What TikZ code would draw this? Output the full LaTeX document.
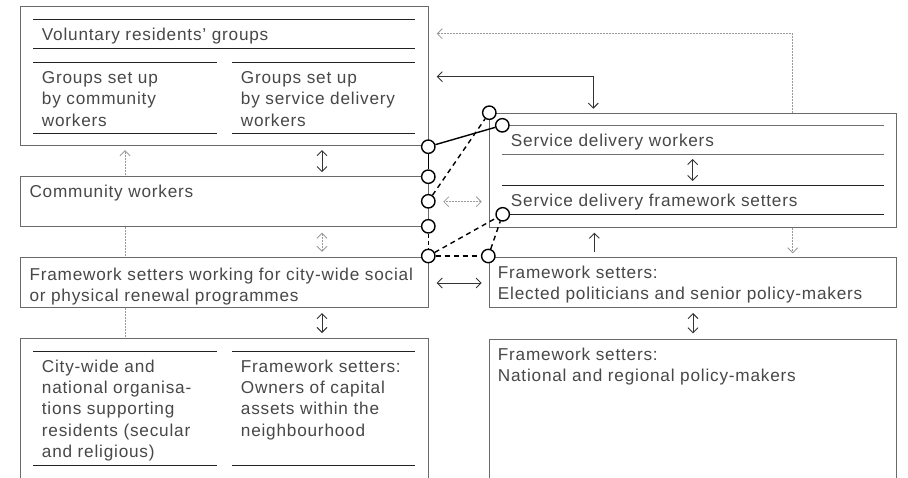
\documentclass[tikz,border=0pt]{standalone}
\usepackage{fontspec}
\setmainfont{Liberation Sans}[LetterSpace=4.6]
\usetikzlibrary{arrows.meta,backgrounds}
\definecolor{boxline}{HTML}{6A6A6A}
\definecolor{txt}{HTML}{484848}
\definecolor{dotline}{HTML}{9A9A9A}
\definecolor{rulegray}{HTML}{707070}
\definecolor{ruledark}{HTML}{222222}

\tikzset{
  box/.style={draw=boxline, line width=1pt, fill=white, anchor=north west,
    inner sep=0pt, outer sep=0pt, rectangle},
  lbl/.style={anchor=base west, inner sep=0pt, text=txt,
    font=\fontsize{17.2}{21.4}\selectfont},
  rulel/.style={draw=rulegray, line width=1pt},
  ruled/.style={draw=ruledark, line width=1pt},
  joint/.style={circle, draw=black, line width=1.4pt, fill=white,
    minimum size=13.4pt, inner sep=0pt},
  link/.style={draw=black, line width=1.4pt},
  dlink/.style={draw=black, line width=1.4pt, dash pattern=on 5pt off 4pt},
  tip/.tip={Straight Barb[length=5pt,width=10pt]},
  sarr/.style={draw=black!80, line width=0.9pt},
  dotl/.style={draw=dotline, line width=0.8pt, dash pattern=on 0.7pt off 0.8pt},
}

\newcommand{\blk}[2]{\parbox[t]{#1}{\raggedright #2}}

\begin{document}
\begin{tikzpicture}[x=1pt,y=-1pt]
\useasboundingbox (0,0) rectangle (908,477);

% ---- boxes on the left ----
\node[box, minimum width=407.3pt, minimum height=139pt] (vol) at (20.7,6.7) {};
\node[box, minimum width=407.3pt, minimum height=50pt]  (cw)  at (20.7,176.7) {};
\node[box, minimum width=407.3pt, minimum height=50pt]  (fsc) at (20.7,257.3) {};
\node[box, minimum width=407.3pt, minimum height=142pt] (org) at (20.7,338.3) {};

% ---- boxes on the right ----
\node[box, minimum width=407.4pt, minimum height=114pt] (sd)  at (489.3,113.3) {};
\node[box, minimum width=407.4pt, minimum height=50pt]  (el)  at (489.3,257.3) {};
\node[box, minimum width=407.4pt, minimum height=141pt] (nat) at (489.3,339) {};

% ---- inner rules ----
\draw[ruled] (33,19.3) -- (415,19.3);
\draw[ruled] (33,48.3) -- (415,48.3);
\draw[ruled] (33,62) -- (216.7,62);
\draw[ruled] (232,62) -- (415,62);
\draw[ruled] (33,133.3) -- (216.7,133.3);
\draw[ruled] (232,133.3) -- (415,133.3);

\draw[ruled] (33,351.7) -- (216.7,351.7);
\draw[ruled] (232,351.7) -- (415,351.7);
\draw[ruled] (33,465) -- (216.7,465);
\draw[ruled] (232,465) -- (415,465);

\draw[rulel] (502.3,125.7) -- (884,125.7);
\draw[rulel] (501.7,154.3) -- (884,154.3);
\draw[ruled] (501.7,185.7) -- (884,185.7);
\draw[ruled] (502.7,214.3) -- (884,214.3);

% ---- texts ----
\node[lbl] (tvol) at (41.7,40.7) {Voluntary residents’ groups};
\node[lbl] (tgc) at (41.7,83.3) {\blk{180pt}{Groups set up\\by community\\workers}};
\node[lbl] (tgs) at (240.7,83.3) {\blk{180pt}{Groups set up\\by service delivery\\workers}};
\node[lbl] (tcw) at (29.3,197.7) {Community workers};
\node[lbl] (tfsc) at (29.3,280) {\blk{400pt}{Framework setters working for city-wide social\\or physical renewal programmes}};
\node[lbl] (torg) at (41.7,372) {\blk{180pt}{City-wide and\\national organisa-\\tions supporting\\residents (secular\\and religious)}};
\node[lbl] (town) at (240.7,372) {\blk{180pt}{Framework setters:\\Owners of capital\\assets within the\\neighbourhood}};

\node[lbl] (tsdw) at (510.7,146.7) {Service delivery workers};
\node[lbl] (tsdf) at (510.7,206) {Service delivery framework setters};
\node[lbl] (tel) at (497.7,278.3) {\blk{400pt}{Framework setters:\\Elected politicians and senior policy-makers}};
\node[lbl] (tnat) at (497.7,360) {\blk{400pt}{Framework setters:\\National and regional policy-makers}};

% ---- helper coordinates ----
\coordinate (mx) at (322,0);
\coordinate (lx) at (125,0);
\coordinate (rx) at (693,0);
\coordinate (ux) at (594.3,0);
\coordinate (solidc) at (593.3,76.7);
\coordinate (dotc) at (792.7,33.7);
\coordinate (ya) at (0,201.7);
\coordinate (yb) at (0,283);

% ---- long dotted lines running behind the boxes ----
\begin{pgfonlayer}{background}
  \draw[dotl, -{tip}] (org.north -| lx) -- ([yshift=-4.5pt]vol.south -| lx);
  \draw[dotl, {tip}-{tip}] ([xshift=8.7pt]vol.east |- dotc) -- (dotc)
        -- ([yshift=4pt]el.north -| dotc);
\end{pgfonlayer}

% ---- arrows ----
\draw[sarr, {tip}-{tip}] ([xshift=8.7pt]vol.east |- solidc) -- (solidc)
      -- ([yshift=4.6pt]sd.north -| solidc);
\draw[sarr, {tip}-{tip}] ([yshift=-4.3pt]vol.south -| mx) -- ([yshift=4.5pt]cw.north -| mx);
\draw[dotl, {tip}-{tip}] ([yshift=-6pt]cw.south -| mx) -- ([yshift=5.5pt]fsc.north -| mx);
\draw[sarr, {tip}-{tip}] ([yshift=-5.7pt]fsc.south -| mx) -- ([yshift=5.3pt]org.north -| mx);
\draw[sarr, -{tip}] ([yshift=5.3pt]el.north -| ux) -- ([yshift=-5.4pt]sd.south -| ux);
\draw[sarr, {tip}-{tip}] ([yshift=-5.7pt]el.south -| rx) -- ([yshift=5.7pt]nat.north -| rx);
\draw[sarr, {tip}-{tip}] (692.7,159) -- (692.7,181);
\draw[dotl, {tip}-{tip}] ([xshift=15.3pt]cw.east |- ya) -- ([xshift=-7.6pt]sd.west |- ya);
\draw[sarr, {tip}-{tip}] ([xshift=8.7pt]fsc.east |- yb) -- ([xshift=-7.6pt]el.west |- yb);

% ---- joints ----
\node[joint] (ja) at (489.3,112.7) {};
\node[joint] (jb) at (502.3,125.3) {};
\node[joint] (jc) at (428.3,146.7) {};
\node[joint] (jd) at (428.3,176.7) {};
\node[joint] (je) at (428.3,201.3) {};
\node[joint] (jf) at (428.3,226.3) {};
\node[joint] (jg) at (428.3,256) {};
\node[joint] (jh) at (488.3,256) {};
\node[joint] (ji) at (502.7,214.3) {};

\draw[link] (jc) -- (jb);
\draw[link] (jc) -- (jd);
\draw[dlink] (je) -- (ja);
\draw[dlink, dash pattern=on 4pt off 3pt] (jf) -- (jg);
\draw[dlink] (jg) -- (ji);
\draw[dlink] (jg) -- (jh);
\draw[dlink] (jh) -- (ji);
\end{tikzpicture}
\end{document}
